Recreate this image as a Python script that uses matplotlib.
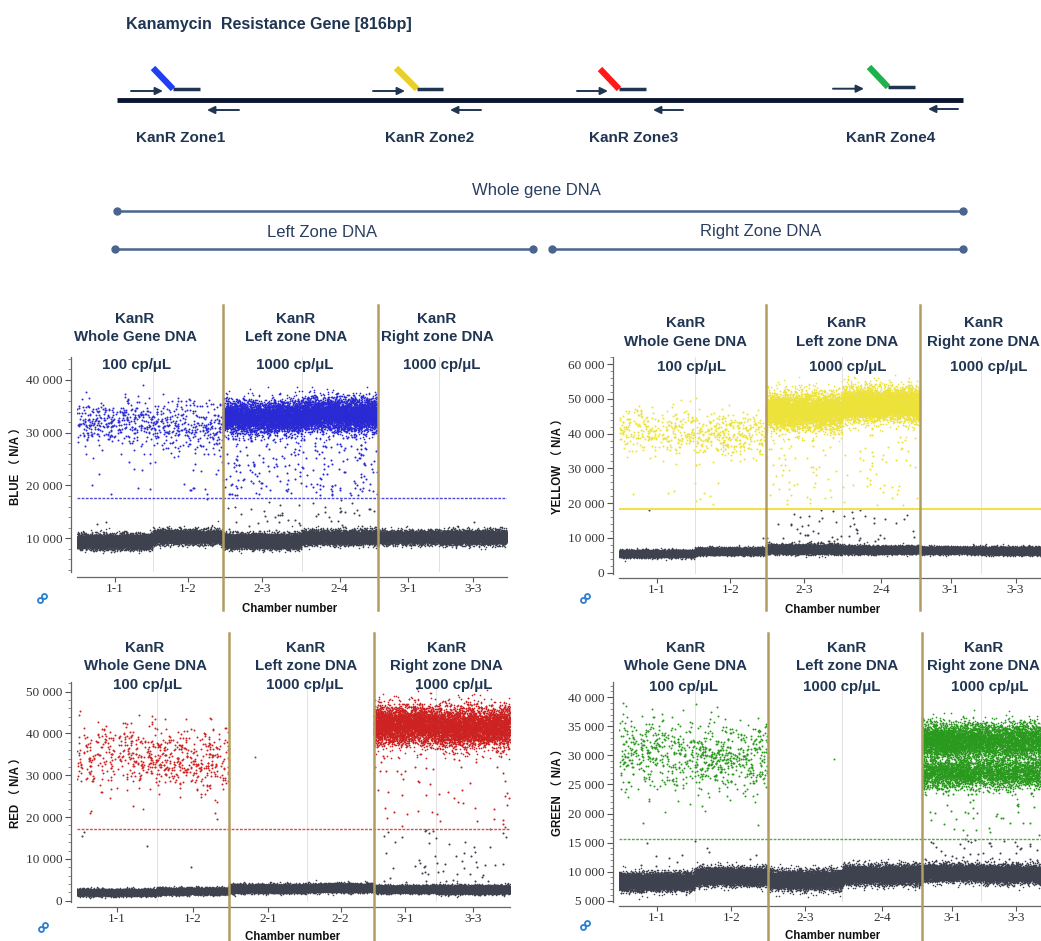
import numpy as np
import matplotlib
matplotlib.use('Agg')
import matplotlib.pyplot as plt
from matplotlib.ticker import MultipleLocator, AutoMinorLocator, FuncFormatter

W, H = 1041, 941
SANS = ['Liberation Sans', 'DejaVu Sans']
SERIF = 'Liberation Serif'
NAVY = '#1f3552'
NEG_GRAY = '#3d424e'
GOLD = '#b39c60'

# ---------------- data ----------------
# droplet clusters per chamber: size = droplets in chamber (x extent),
# neg = negative band, pos = positive cloud, rain = droplets between clusters
blue_chambers = ['1-1', '1-2', '2-3', '2-4', '3-1', '3-3']
blue_size = [15100, 14000, 15800, 15200, 12300, 13600]
blue_neg_mean = [9400, 10300, 9500, 10200, 10200, 10200]
blue_neg_sd = [650, 600, 650, 600, 550, 600]
blue_pos_mean = [32000, 31500, 33000, 33500, 0, 0]
blue_pos_sd = [2300, 2600, 1500, 1500, 0, 0]
blue_pos_count = [330, 300, 4500, 4800, 0, 0]
blue_rain_pos = [10, 15, 120, 120, 0, 0]
blue_rain_neg = [2, 2, 25, 25, 0, 1]
blue_threshold = 17600

yellow_chambers = ['1-1', '1-2', '2-3', '2-4', '3-1', '3-3']
yellow_size = [15200, 14200, 15300, 15600, 12200, 13800]
yellow_neg_mean = [5500, 6200, 6800, 6600, 6500, 6300]
yellow_neg_sd = [450, 450, 600, 500, 450, 500]
yellow_pos_mean = [41000, 40000, 46500, 48500, 0, 0]
yellow_pos_sd = [3200, 3300, 2600, 2400, 0, 0]
yellow_pos_count = [280, 320, 4500, 4800, 0, 0]
yellow_rain_pos = [5, 8, 60, 60, 0, 0]
yellow_rain_neg = [1, 1, 30, 25, 0, 0]
yellow_threshold = 18200

red_chambers = ['1-1', '1-2', '2-1', '2-2', '3-1', '3-3']
red_size = [15900, 14500, 15600, 13300, 12500, 14700]
red_neg_mean = [2000, 2300, 2900, 3100, 2800, 2700]
red_neg_sd = [350, 350, 450, 450, 400, 450]
red_pos_mean = [34500, 33500, 34300, 0, 42000, 41500]
red_pos_sd = [4000, 3800, 0, 0, 2300, 2300]
red_pos_count = [300, 330, 1, 0, 3500, 4000]
red_rain_pos = [3, 3, 0, 0, 30, 30]
red_rain_neg = [3, 1, 0, 0, 25, 30]
red_threshold = 17100

green_chambers = ['1-1', '1-2', '2-3', '2-4', '3-1', '3-3']
green_size = [15200, 14700, 14900, 16000, 11800, 13800]
green_neg_mean = [8300, 9200, 8600, 9500, 9800, 9600]
green_neg_sd = [700, 700, 750, 750, 650, 700]
green_pos_mean = [30500, 29500, 29300, 0, 32500, 32500]
green_pos_sd = [3000, 3000, 0, 0, 1500, 1500]
green_pos_count = [350, 420, 1, 0, 2800, 2800]
green_pos2_mean = [0, 0, 0, 0, 27000, 27000]
green_pos2_sd = [0, 0, 0, 0, 1300, 1300]
green_pos2_count = [0, 0, 0, 0, 1800, 1800]
green_rain_pos = [3, 3, 0, 0, 40, 40]
green_rain_neg = [8, 5, 0, 0, 20, 20]
green_threshold = 15700

header_kanr = 'KanR'
header_dna = ['Whole Gene DNA', 'Left zone DNA', 'Right zone DNA']
header_conc = ['100 cp/μL', '1000 cp/μL', '1000 cp/μL']
zone_labels = ['KanR Zone1', 'KanR Zone2', 'KanR Zone3', 'KanR Zone4']
zone_colors = ['#1f3ff0', '#e8cf2a', '#ff1a1a', '#1db34a']

rng = np.random.default_rng(11)

fig = plt.figure(figsize=(W / 100, H / 100), dpi=100)


def space_fmt(v, pos):
    return f'{int(round(v)):,}'.replace(',', ' ')


def panel(box, ylim, major, minor_n, out_bottom, color, chambers, size,
          neg_mean, neg_sd, pos_mean, pos_sd, pos_count, rain_pos, rain_neg,
          threshold, th_style, gold_span, extra=None):
    x0, x1, top, bottom = box
    ax = fig.add_axes([x0 / W, 1 - bottom / H, (x1 - x0) / W, (bottom - top) / H])
    edges = np.concatenate([[0], np.cumsum(size)])
    centers = (edges[:-1] + edges[1:]) / 2

    for i in range(len(chambers)):
        a, b = edges[i], edges[i + 1]
        n_neg = size[i] // 2
        ax.scatter(rng.uniform(a, b, n_neg), rng.normal(neg_mean[i], neg_sd[i], n_neg),
                   s=1.3, c=NEG_GRAY, linewidths=0, rasterized=True, zorder=2)
        if rain_neg[i]:
            ax.scatter(rng.uniform(a, b, rain_neg[i]),
                       rng.uniform(neg_mean[i] + 3 * neg_sd[i], threshold, rain_neg[i]),
                       s=2.2, c=NEG_GRAY, linewidths=0, rasterized=True, zorder=2)
        clouds = [(pos_mean[i], pos_sd[i], pos_count[i])]
        if extra is not None:
            clouds.append((extra[0][i], extra[1][i], extra[2][i]))
        for m, sd, n in clouds:
            if n:
                ax.scatter(rng.uniform(a, b, n), rng.normal(m, sd, n),
                           s=2.0 if n < 1000 else 1.5, c=color, linewidths=0,
                           rasterized=True, zorder=3)
        if rain_pos[i]:
            ax.scatter(rng.uniform(a, b, rain_pos[i]),
                       rng.uniform(threshold + 500, pos_mean[i] - 1.5 * pos_sd[i], rain_pos[i]),
                       s=2.2, c=color, linewidths=0, rasterized=True, zorder=3)

    # faint chamber separators and gold group separators
    for i, e in enumerate(edges[1:-1], start=1):
        if i in (2, 4):
            g0, g1 = gold_span
            ax.axvline(e, ymin=(bottom - g1) / (bottom - top), ymax=(bottom - g0) / (bottom - top),
                       color=GOLD, lw=1.8, clip_on=False, zorder=6)
        else:
            ax.axvline(e, color='#e2e2e2', lw=0.7, zorder=1)

    ax.axhline(threshold, color=th_style[0], lw=th_style[1], ls=th_style[2], zorder=4)

    ax.set_xlim(0, edges[-1])
    ax.set_ylim(*ylim)
    ax.set_xticks(centers)
    ax.set_xticklabels(chambers)
    ax.yaxis.set_major_locator(MultipleLocator(major))
    ax.yaxis.set_minor_locator(AutoMinorLocator(minor_n))
    ax.yaxis.set_major_formatter(FuncFormatter(space_fmt))
    ax.tick_params(axis='y', which='major', length=4, width=0.8, labelsize=9.5,
                   colors='#555555', labelcolor='#333333', pad=2, labelfontfamily=SERIF)
    ax.tick_params(axis='y', which='minor', length=2.2, width=0.6, colors='#777777')
    ax.tick_params(axis='x', length=3.5, width=0.8, colors='#555555', labelcolor='#333333',
                   pad=1, labelsize=9.5, labelfontfamily=SERIF)
    for s in ('top', 'right'):
        ax.spines[s].set_visible(False)
    ax.spines['left'].set_position(('outward', 4.5))
    ax.spines['bottom'].set_position(('outward', out_bottom * 0.72))
    for s in ('left', 'bottom'):
        ax.spines[s].set_color('#666666')
        ax.spines[s].set_linewidth(0.9)
    ax.set_facecolor('none')
    return ax


panel((77, 507, 357, 572), (3600, 44360), 10000, 5, 5, '#2a2ad4',
      blue_chambers, blue_size, blue_neg_mean, blue_neg_sd, blue_pos_mean, blue_pos_sd,
      blue_pos_count, blue_rain_pos, blue_rain_neg, blue_threshold,
      ('#4b4bd8', 1.0, (0, (2, 1))), (305, 610))
panel((619, 1050, 357, 574), (-375, 62018), 10000, 5, 4, '#ece23a',
      yellow_chambers, yellow_size, yellow_neg_mean, yellow_neg_sd, yellow_pos_mean,
      yellow_pos_sd, yellow_pos_count, yellow_rain_pos, yellow_rain_neg, yellow_threshold,
      ('#f0e04a', 1.5, '-'), (305, 610))
panel((77, 510, 681.7, 901.5), (-190, 52390), 10000, 5, 5, '#cc2222',
      red_chambers, red_size, red_neg_mean, red_neg_sd, red_pos_mean, red_pos_sd,
      red_pos_count, red_rain_pos, red_rain_neg, red_threshold,
      ('#e04848', 1.0, (0, (2, 1))), (633, 941))
panel((619, 1050, 681.7, 901.7), (4828, 42685), 5000, 5, 4.3, '#2a9a1e',
      green_chambers, green_size, green_neg_mean, green_neg_sd, green_pos_mean,
      green_pos_sd, green_pos_count, green_rain_pos, green_rain_neg, green_threshold,
      ('#55aa44', 1.0, (0, (2, 1))), (633, 941),
      extra=(green_pos2_mean, green_pos2_sd, green_pos2_count))

# ---------------- overlay in pixel coordinates ----------------
ov = fig.add_axes([0, 0, 1, 1], zorder=10)
ov.set_xlim(0, W)
ov.set_ylim(H, 0)
ov.axis('off')

ov.text(126, 24, 'Kanamycin  Resistance Gene [816bp]', fontsize=11.5, fontweight='bold',
        color=NAVY, family=SANS, ha='left', va='center')

# gene line with primers and probes
ov.plot([117, 963], [100, 100], color='#0b1630', lw=3.5, solid_capstyle='butt')
probes = [((153, 68), (173, 89), 200, 88.5, (131, 163, 91), (239, 207, 110), (181, 138)),
          ((396, 68), (417, 89), 443, 88.5, (373, 405, 91), (481, 450, 110), (430, 138)),
          ((600, 69), (619, 89), 646, 88.5, (577, 608, 91), (683, 653, 110), (634, 138)),
          ((869, 67), (888, 87), 915, 87, (833, 864, 88.7), (958, 928, 109), (891, 138))]
for (p0, p1, hx, hy, fwd, rev, lab), col, name in zip(probes, zone_colors, zone_labels):
    ov.plot([p0[0], p1[0]], [p0[1], p1[1]], color=col, lw=4.5, solid_capstyle='butt')
    ov.plot([p1[0], hx], [hy, hy], color=NAVY, lw=2.5, solid_capstyle='butt')
    for a, b, y in (fwd, rev):
        ov.annotate('', xy=(b, y), xytext=(a, y),
                    arrowprops=dict(arrowstyle='-|>,head_length=0.45,head_width=0.22',
                                    color=NAVY, lw=1.4, shrinkA=0, shrinkB=0))
    ov.text(lab[0], lab[1], name, fontsize=11, fontweight='bold', color=NAVY,
            family=SANS, ha='center', va='center')

# DNA template spans
for txt, tx, ty, xa, xb, ly in [('Whole gene DNA', 536, 190, 117, 963, 211),
                                ('Left Zone DNA', 322, 232, 115, 533, 249),
                                ('Right Zone DNA', 761, 231, 552, 963, 249)]:
    ov.text(tx, ty, txt, fontsize=12, color='#2a3f5f', family=SANS, ha='center', va='center')
    ov.plot([xa, xb], [ly, ly], color='#49648f', lw=1.8, marker='o', markersize=5,
            markevery=[0, 1])

# panel headers, axis labels and icons
headers = [((135, 296, 437), (136, 295, 442), (319, 337, 365.5)),
           ((686, 846.7, 983.5), (691.7, 848, 989), (323, 341.7, 367)),
           ((145, 306, 446.7), (147.7, 305, 453.3), (648.3, 666, 684.5)),
           ((686, 846.7, 983.5), (683.3, 841.7, 990), (648.3, 666, 687.5))]
for xs, xc, ys in headers:
    for k in range(3):
        ov.text(xs[k], ys[0], header_kanr, fontsize=10.8, fontweight='bold', color=NAVY,
                family=SANS, ha='center', va='center')
        ov.text(xs[k], ys[1], header_dna[k], fontsize=10.8, fontweight='bold', color=NAVY,
                family=SANS, ha='center', va='center')
        ov.text(xc[k], ys[2], header_conc[k], fontsize=10.8, fontweight='bold', color=NAVY,
                family=SANS, ha='center', va='center')

for name, yx, yy, cx, cy, ix, iy in [('BLUE', 17, 463, 290, 609, 42, 598),
                                     ('YELLOW', 559, 463, 833, 610, 585, 598),
                                     ('RED', 17, 790, 293, 937, 42.7, 926.7),
                                     ('GREEN', 559, 790, 833, 936, 585, 925)]:
    ov.text(yx, yy, name + ' （ N/A ）', rotation=90, fontsize=8.3, fontweight='bold',
            color='#111111', family=['Liberation Sans', 'Noto Sans CJK SC'],
            ha='center', va='center')
    ov.text(cx, cy, 'Chamber number', fontsize=8.3, fontweight='bold', color='#111111',
            family=SANS, ha='center', va='center')
    ov.plot([ix - 2.2, ix + 2.2], [iy + 2.2, iy - 2.2], color='#2a7fd0', lw=0,
            marker='o', markersize=3.6, markerfacecolor='white', markeredgewidth=1.3)

fig.savefig('out.png', dpi=100)
